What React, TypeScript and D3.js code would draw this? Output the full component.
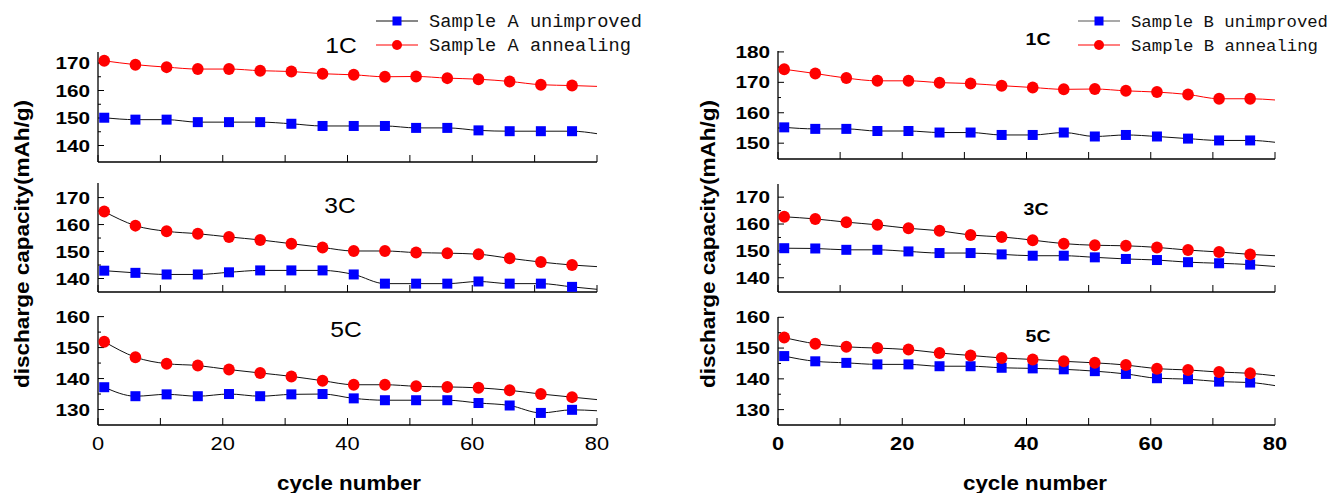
import React from 'react';
import * as d3 from 'd3';

// cycles where markers are drawn; the line carries on to cycle 80
const markerCycles = [1, 6, 11, 16, 21, 26, 31, 36, 41, 46, 51, 56, 61, 66, 71, 76];
const lineCycles = [...markerCycles, 80];
const xTicks = [0, 20, 40, 60, 80];
const xMinor = [10, 30, 50, 70];

// Sample A
const a1cUnimproved = [150.1, 149.4, 149.4, 148.5, 148.5, 148.5, 147.9, 147.1, 147.1, 147.1, 146.4, 146.4, 145.5, 145.2, 145.2, 145.2, 144.3];
const a1cAnnealing = [170.8, 169.4, 168.5, 167.8, 167.8, 167.2, 166.9, 166.1, 165.7, 165.0, 165.1, 164.5, 164.1, 163.3, 162.1, 161.8, 161.5];
const a3cUnimproved = [142.9, 142.1, 141.5, 141.5, 142.3, 143.0, 143.0, 143.0, 141.5, 138.1, 138.1, 138.1, 138.9, 138.1, 138.1, 136.9, 136.0];
const a3cAnnealing = [164.8, 159.6, 157.5, 156.6, 155.4, 154.3, 152.9, 151.5, 150.2, 150.2, 149.6, 149.4, 149.0, 147.5, 146.1, 145.0, 144.4];
const a5cUnimproved = [137.2, 134.3, 134.9, 134.3, 135.0, 134.3, 134.9, 135.0, 133.6, 133.0, 133.0, 133.0, 132.1, 131.3, 128.9, 129.9, 129.6];
const a5cAnnealing = [151.9, 146.9, 144.8, 144.2, 142.9, 141.8, 140.7, 139.3, 138.0, 138.0, 137.5, 137.3, 137.0, 136.2, 135.0, 134.0, 133.2];

// Sample B
const b1cUnimproved = [155.2, 154.7, 154.7, 154.0, 154.0, 153.5, 153.5, 152.7, 152.7, 153.5, 152.2, 152.7, 152.2, 151.5, 150.9, 150.9, 150.3];
const b1cAnnealing = [174.3, 172.9, 171.4, 170.5, 170.5, 169.9, 169.6, 168.9, 168.3, 167.7, 167.8, 167.2, 166.8, 166.0, 164.6, 164.6, 164.2];
const b3cUnimproved = [151.0, 150.9, 150.4, 150.4, 149.8, 149.2, 149.2, 148.7, 148.2, 148.2, 147.6, 147.0, 146.6, 145.8, 145.4, 144.9, 144.2];
const b3cAnnealing = [162.7, 161.9, 160.7, 159.7, 158.4, 157.5, 155.9, 155.2, 154.0, 152.7, 152.1, 151.9, 151.3, 150.3, 149.6, 148.7, 148.2];
const b5cUnimproved = [147.4, 145.7, 145.2, 144.7, 144.7, 144.1, 144.1, 143.6, 143.4, 143.1, 142.5, 141.6, 140.2, 139.9, 139.1, 138.8, 137.8];
const b5cAnnealing = [153.4, 151.4, 150.4, 150.0, 149.5, 148.4, 147.6, 146.8, 146.3, 145.7, 145.2, 144.5, 143.3, 142.9, 142.2, 141.8, 141.0];

const legendA = ['Sample A unimproved', 'Sample A annealing'];
const legendB = ['Sample B unimproved', 'Sample B annealing'];

const SANS = '"Liberation Sans", Arial, sans-serif';
const MONO = '"Liberation Mono", monospace';

type SubPlot = {
  title: string;
  top: number;
  bottom: number;
  domain: [number, number];
  ticks: number[];
  minor: number[];
  unimproved: number[];
  annealing: number[];
  annealColor: string;
  titleX: number;
  titleY: number;
};

const leftPlots: SubPlot[] = [
  { title: '1C', top: 52, bottom: 162, domain: [134, 174], ticks: [140, 150, 160, 170], minor: [145, 155, 165], unimproved: a1cUnimproved, annealing: a1cAnnealing, annealColor: '#ff0000', titleX: 341, titleY: 53 },
  { title: '3C', top: 183, bottom: 292, domain: [135, 175.4], ticks: [140, 150, 160, 170], minor: [145, 155, 165], unimproved: a3cUnimproved, annealing: a3cAnnealing, annealColor: '#111', titleX: 340, titleY: 213 },
  { title: '5C', top: 316, bottom: 425, domain: [125, 160.2], ticks: [130, 140, 150, 160], minor: [135, 145, 155], unimproved: a5cUnimproved, annealing: a5cAnnealing, annealColor: '#111', titleX: 346, titleY: 337 },
];

const rightPlots: SubPlot[] = [
  { title: '1C', top: 51, bottom: 159, domain: [144.8, 180.3], ticks: [150, 160, 170, 180], minor: [155, 165, 175], unimproved: b1cUnimproved, annealing: b1cAnnealing, annealColor: '#ff0000', titleX: 1038, titleY: 45 },
  { title: '3C', top: 184, bottom: 292, domain: [134.7, 174.9], ticks: [140, 150, 160, 170], minor: [145, 155, 165], unimproved: b3cUnimproved, annealing: b3cAnnealing, annealColor: '#111', titleX: 1036, titleY: 215 },
  { title: '5C', top: 317, bottom: 425, domain: [125, 160.1], ticks: [130, 140, 150, 160], minor: [135, 145, 155], unimproved: b5cUnimproved, annealing: b5cAnnealing, annealColor: '#111', titleX: 1038, titleY: 342 },
];

function Panel({ x0, x1, plots, bold, legend, legendX, legendLen, legendSize, labelX, xLabelX }: any) {
  const x = d3.scaleLinear().domain([0, 80]).range([x0, x1]);

  const sub = plots.map((p: SubPlot, i: number) => {
    const y = d3.scaleLinear().domain(p.domain).range([p.bottom, p.top]);
    const line = d3.line<number>()
      .x((_, j) => x(lineCycles[j]))
      .y(d => y(d))
      .curve(d3.curveMonotoneX);
    return (
      <g key={i}>
        {/* axes */}
        <line x1={x0} x2={x0} y1={p.top} y2={p.bottom} stroke="#000" strokeWidth={1.3} />
        <line x1={x0} x2={x1} y1={p.bottom} y2={p.bottom} stroke="#000" strokeWidth={1.3} />
        {d3.range(0, 81, 10).map(t => (
          <line key={'xt' + t} x1={x(t)} x2={x(t)} y1={p.bottom} y2={p.bottom - 7} stroke="#000" strokeWidth={1} />
        ))}
        {p.ticks.map(t => (
          <g key={'yt' + t}>
            <line x1={x0} x2={x0 + 6} y1={y(t)} y2={y(t)} stroke="#000" strokeWidth={1} />
            <text transform={`translate(${x0 - 8},${y(t) + 6}) scale(1.22,1)`} textAnchor="end"
              fontFamily={SANS} fontWeight="bold" fontSize={17}>{t}</text>
          </g>
        ))}
        {p.minor.map(t => (
          <line key={'ym' + t} x1={x0} x2={x0 + 3} y1={y(t)} y2={y(t)} stroke="#000" strokeWidth={1} />
        ))}
        {/* title */}
        <text transform={`translate(${p.titleX},${p.titleY}) scale(${bold ? 1.15 : 1.12},1)`} textAnchor="middle"
          fontFamily={SANS} fontWeight={bold ? 'bold' : 'normal'} fontSize={bold ? 17 : 22}>{p.title}</text>
        {/* lines */}
        <path d={line(p.unimproved) || ''} fill="none" stroke="#111" strokeWidth={1} />
        <path d={line(p.annealing) || ''} fill="none" stroke={p.annealColor} strokeWidth={1} />
        {/* markers */}
        {markerCycles.map((c, j) => (
          <rect key={'s' + j} x={x(c) - 5} y={y(p.unimproved[j]) - 5} width={10} height={10} fill="#0000ff" />
        ))}
        {markerCycles.map((c, j) => (
          <ellipse key={'c' + j} cx={x(c)} cy={y(p.annealing[j])} rx={5.8} ry={6} fill="#ff0000" />
        ))}
      </g>
    );
  });

  const lastBottom = plots[plots.length - 1].bottom;

  return (
    <g>
      {sub}
      {xTicks.map(t => (
        <text key={'xl' + t} transform={`translate(${x(t)},${lastBottom + 25}) scale(1.15,1)`} textAnchor="middle"
          fontFamily={SANS} fontWeight={bold ? 'bold' : 'normal'} fontSize={19}>{t}</text>
      ))}
      <text transform={`translate(${labelX},244) rotate(-90)`} textAnchor="middle" fontFamily={SANS}
        fontWeight="bold" fontSize={20} textLength={288} lengthAdjust="spacingAndGlyphs">discharge capacity(mAh/g)</text>
      <text x={xLabelX} y={490} textAnchor="middle" fontFamily={SANS} fontWeight="bold" fontSize={20}
        textLength={144} lengthAdjust="spacingAndGlyphs">cycle number</text>
      {/* legend */}
      {legend.map((name: string, i: number) => {
        const ly = 21 + i * 24;
        return (
          <g key={name}>
            <line x1={legendX} x2={legendX + 42} y1={ly} y2={ly} stroke={i === 0 ? (bold ? '#555' : '#111') : '#ff0000'} strokeWidth={1.2} />
            {i === 0
              ? <rect x={legendX + 21 - 4.5} y={ly - 4.5} width={9} height={9} fill="#0000ff" />
              : <circle cx={legendX + 21} cy={ly} r={5} fill="#ff0000" />}
            <text x={legendX + 53} y={ly + 6} fontFamily={MONO} fontSize={legendSize}
              textLength={legendLen[i]} lengthAdjust="spacingAndGlyphs" fill="#111">{name}</text>
          </g>
        );
      })}
    </g>
  );
}

export default function App() {
  return (
    <svg width={1331} height={493} style={{ position: 'absolute', left: 0, top: 0, background: '#fff' }}>
      <rect width={1331} height={493} fill="#fff" />
      <Panel x0={98} x1={597} plots={leftPlots} bold={false} legend={legendA} legendX={376}
        legendLen={[213, 202]} legendSize={18.5} labelX={29} xLabelX={349} />
      <Panel x0={778} x1={1275} plots={rightPlots} bold={true} legend={legendB} legendX={1078}
        legendLen={[197, 187]} legendSize={17.3} labelX={715} xLabelX={1035} />
    </svg>
  );
}
